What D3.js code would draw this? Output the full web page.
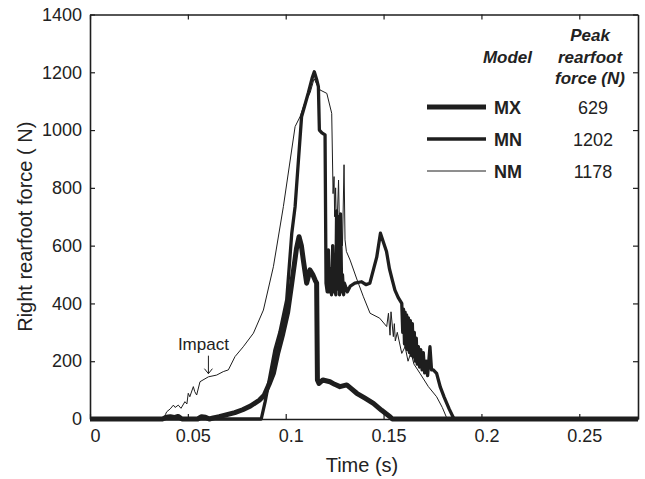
<!DOCTYPE html>
<html>
<head>
<meta charset="utf-8">
<script src="https://cdn.jsdelivr.net/npm/d3@7"></script>
<style>
  body { margin: 0; background: #fff; }
  svg { display: block; font-family: "Liberation Sans", Arial, sans-serif; }
</style>
</head>
<body>
<svg id="chart"></svg>
<script>
// tick values
const xTicks = [0, 0.05, 0.1, 0.15, 0.2, 0.25];
const yTicks = [0, 200, 400, 600, 800, 1000, 1200, 1400];

// MX model (thickest line)
const mxTime = [0, 0.037, 0.039, 0.041, 0.043, 0.045, 0.047, 0.055, 0.057, 0.059, 0.061, 0.063, 0.066, 0.070,
  0.074, 0.078, 0.082, 0.0865, 0.089, 0.0915, 0.0937, 0.096, 0.0985, 0.101, 0.1031, 0.1055, 0.1068, 0.108,
  0.109, 0.1107, 0.1124, 0.1138, 0.115, 0.1158, 0.1162, 0.117, 0.119, 0.1226, 0.125, 0.1277, 0.1312,
  0.1335, 0.1363, 0.1405, 0.1448, 0.149, 0.1533, 0.1545, 0.28];
const mxForce = [0, 0, 6, 8, 5, 9, 0, 0, 8, 6, 0, 4, 8, 15,
  22, 32, 45, 65, 82, 120, 158, 230, 295, 370, 470, 590, 631, 600,
  550, 470, 516, 500, 481, 470, 135, 123, 135, 129, 120, 112, 118,
  105, 89, 72, 54, 30, 8, 0, 0];

// MN model (medium line)
const mnTime = [0, 0.0875, 0.0895, 0.092, 0.0945, 0.097, 0.1005, 0.1031, 0.1048, 0.1081, 0.1116, 0.1135, 0.1146,
  0.1158, 0.1167, 0.1172, 0.1185, 0.1201, 0.1206, 0.1212, 0.1218, 0.1222, 0.1228, 0.1234, 0.124, 0.1246,
  0.125, 0.1256, 0.126, 0.1266, 0.127, 0.1275, 0.128, 0.1286, 0.129, 0.1296, 0.130, 0.1315, 0.133, 0.1353,
  0.1388, 0.141, 0.143, 0.1465, 0.1484, 0.150, 0.1515, 0.153, 0.1545, 0.1558, 0.1575, 0.1593, 0.1598, 0.1602,
  0.1607, 0.161, 0.1614, 0.1618, 0.1622, 0.1627, 0.1632, 0.1637, 0.1642, 0.1647, 0.1652, 0.1657, 0.1662,
  0.1667, 0.1672, 0.1678, 0.1684, 0.169, 0.1697, 0.1703, 0.171, 0.1718, 0.1725, 0.1737, 0.1745, 0.1754,
  0.1771, 0.179, 0.181, 0.1835, 0.186, 0.28];
const mnForce = [0, 0, 60, 150, 240, 300, 412, 643, 735, 1046, 1130, 1180, 1202,
  1175, 1150, 1000, 990, 983, 470, 440, 585, 440, 520, 430, 600, 440,
  470, 430, 720, 450, 700, 430, 710, 440, 500, 430, 470, 440, 460, 470,
  475, 465, 470, 560, 643, 610, 580, 520, 480, 446, 420, 400, 300, 380,
  260, 370, 250, 360, 240, 350, 230, 340, 220, 330, 215, 300, 200,
  280, 190, 250, 180, 240, 170, 230, 160, 200, 150, 250, 170, 170,
  158, 110, 75, 35, 0, 0];

// NM model (thin line)
const nmTime = [0, 0.0375, 0.0385, 0.0392, 0.041, 0.0426, 0.0435, 0.0451, 0.0465, 0.0485, 0.0495, 0.0502, 0.051,
  0.0528, 0.0535, 0.0545, 0.0562, 0.0605, 0.0647, 0.0681, 0.0707, 0.0741, 0.0783, 0.0835, 0.0886, 0.0937,
  0.0988, 0.1048, 0.1073, 0.1095, 0.1125, 0.1145, 0.1165, 0.1175, 0.121, 0.1235, 0.1242, 0.1247, 0.125,
  0.1255, 0.126, 0.127, 0.1275, 0.128, 0.129, 0.1298, 0.1303, 0.131, 0.1329, 0.1365, 0.1397, 0.1431, 0.148,
  0.1516, 0.1525, 0.1533, 0.1538, 0.155, 0.1555, 0.156, 0.157, 0.1593, 0.161, 0.1625, 0.164, 0.1655, 0.1686,
  0.1729, 0.1771, 0.180, 0.1825, 0.28];
const nmForce = [0, 0, 15, 25, 35, 48, 40, 48, 37, 60, 52, 89, 77,
  112, 95, 83, 129, 146, 152, 164, 170, 216, 250, 297, 377, 527,
  735, 1012, 1046, 1090, 1130, 1178, 1150, 1139, 1127, 1058, 780, 839, 700,
  800, 620, 827, 650, 700, 600, 880, 620, 580, 550, 481, 423, 366, 349,
  320, 366, 290, 371, 285, 330, 270, 300, 227, 250, 200, 230, 190, 158,
  112, 77, 40, 0, 0];

// legend content
const models = ["MX", "MN", "NM"];
const peaks = [629, 1202, 1178];
const peakHeader = ["Peak", "rearfoot", "force (N)"];

// where the "Impact" annotation points
const impactTime = 0.0605, impactForce = 150;

const svgWidth = 645, svgHeight = 479;
const margin = { top: 14.5, right: 7, bottom: 60, left: 90 };
const width = svgWidth - margin.left - margin.right;
const height = svgHeight - margin.top - margin.bottom;
const ink = "#1e1e1e";

const svg = d3.select("#chart")
  .attr("width", svgWidth)
  .attr("height", svgHeight);

const g = svg.append("g")
  .attr("transform", "translate(" + margin.left + "," + margin.top + ")");

const x = d3.scaleLinear().domain([0, 0.28]).range([0, width]);
const y = d3.scaleLinear().domain([0, 1400]).range([height, 0]);

const fmt = d => String(d);

// axes, ticks pointing inward on all four sides
const bottom = g.append("g")
  .attr("transform", "translate(0," + height + ")")
  .call(d3.axisBottom(x).tickValues(xTicks).tickFormat(fmt).tickSizeInner(-5).tickSizeOuter(0).tickPadding(10));
bottom.selectAll("text").attr("dx", 5);

g.append("g")
  .call(d3.axisLeft(y).tickValues(yTicks).tickFormat(fmt).tickSizeInner(-5).tickSizeOuter(0).tickPadding(8));

g.append("g")
  .call(d3.axisTop(x).tickValues(xTicks).tickFormat("").tickSizeInner(-5).tickSizeOuter(0));

g.append("g")
  .attr("transform", "translate(" + width + ",0)")
  .call(d3.axisRight(y).tickValues(yTicks).tickFormat("").tickSizeInner(-5).tickSizeOuter(0));

g.selectAll(".domain").attr("stroke", ink).attr("stroke-width", 1.6);
g.selectAll(".tick line").attr("stroke", ink).attr("stroke-width", 1.2);
g.selectAll(".tick text").attr("fill", "#222").style("font-size", "18px");

// axis titles
svg.append("text")
  .attr("x", margin.left + x(0.14) - 2)
  .attr("y", 472)
  .attr("text-anchor", "middle")
  .attr("fill", "#222")
  .style("font-size", "20px")
  .text("Time (s)");

svg.append("text")
  .attr("transform", "translate(32," + (margin.top + y(700) + 10) + ") rotate(-90)")
  .attr("text-anchor", "middle")
  .attr("fill", "#222")
  .style("font-size", "20px")
  .text("Right rearfoot force ( N)");

// curves
const series = [
  { name: "NM", time: nmTime, force: nmForce, w: 1 },
  { name: "MN", time: mnTime, force: mnForce, w: 3.3 },
  { name: "MX", time: mxTime, force: mxForce, w: 5 }
];

const line = d3.line()
  .x(d => x(d[0]))
  .y(d => y(d[1]));

series.forEach(s => {
  g.append("path")
    .datum(d3.zip(s.time, s.force))
    .attr("fill", "none")
    .attr("stroke", ink)
    .attr("stroke-width", s.w)
    .attr("stroke-linejoin", "round")
    .attr("d", line);
});

// Impact annotation
const ax = x(impactTime), ay = y(impactForce);
g.append("text")
  .attr("x", ax - 5)
  .attr("y", ay - 26)
  .attr("text-anchor", "middle")
  .attr("fill", "#222")
  .style("font-size", "17px")
  .text("Impact");
g.append("path")
  .attr("d", "M" + ax + "," + (ay - 20) + "V" + (ay - 2) + "M" + (ax - 4) + "," + (ay - 7) + "L" + ax + "," + (ay - 2) + "L" + (ax + 4) + "," + (ay - 7))
  .attr("fill", "none")
  .attr("stroke", ink)
  .attr("stroke-width", 1);

// legend
const widthOf = { MX: 5, MN: 3.3, NM: 1 };
const rowY = d3.scalePoint().domain(models).range([107, 171]);
const legend = svg.append("g");

legend.append("text")
  .attr("x", 532)
  .attr("y", 63)
  .attr("text-anchor", "end")
  .attr("fill", "#222")
  .style("font-size", "17px")
  .style("font-weight", "bold")
  .style("font-style", "italic")
  .text("Model");

legend.selectAll("text.head")
  .data(peakHeader)
  .join("text")
  .attr("class", "head")
  .attr("x", 590)
  .attr("y", (d, i) => 41 + i * 21.5)
  .attr("text-anchor", "middle")
  .attr("fill", "#222")
  .style("font-size", "17px")
  .style("font-weight", "bold")
  .style("font-style", "italic")
  .text(d => d);

models.forEach((m, i) => {
  const yy = rowY(m);
  legend.append("line")
    .attr("x1", 427).attr("x2", 486)
    .attr("y1", yy).attr("y2", yy)
    .attr("stroke", ink)
    .attr("stroke-width", widthOf[m]);
  legend.append("text")
    .attr("x", 494)
    .attr("y", yy + 6.5)
    .attr("fill", "#222")
    .style("font-size", "18px")
    .style("font-weight", "bold")
    .text(m);
  legend.append("text")
    .attr("x", 593)
    .attr("y", yy + 6.5)
    .attr("text-anchor", "middle")
    .attr("fill", "#222")
    .style("font-size", "18px")
    .text(peaks[i]);
});
</script>
</body>
</html>
